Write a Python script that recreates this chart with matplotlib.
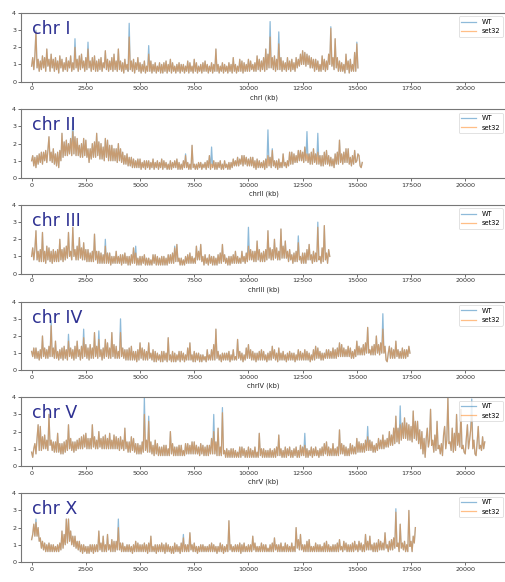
import numpy as np
import matplotlib
matplotlib.use("Agg")
import matplotlib.pyplot as plt

STEP = 50  # kb between bins

chroms = ["chr I", "chr II", "chr III", "chr IV", "chr V", "chr X"]
xlabels = ["chrI (kb)", "chrII (kb)", "chrIII (kb)", "chrIV (kb)", "chrV (kb)", ""]

set32_I = [
 0.9,1.4,0.7,1.5,2.9,0.8,1.3,0.6,1.2,0.7,1.5,0.8,1.4,0.6,1.9,0.9,1.3,0.6,1.6,0.8,
 1.3,0.6,1.4,0.7,1.2,0.5,1.5,0.8,1.3,0.6,1.1,0.7,1.4,0.6,1.2,0.8,1.5,0.6,1.1,0.7,
 2.0,0.8,1.3,0.6,1.5,0.7,1.6,0.8,1.2,0.6,1.4,0.7,1.9,0.8,1.2,0.6,1.4,0.7,1.5,0.6,
 1.2,0.6,1.3,0.7,1.4,0.6,1.1,0.8,1.8,0.7,1.3,0.6,1.2,0.7,1.4,0.6,1.6,0.7,1.2,0.6,
 1.9,0.7,1.2,0.6,1.1,0.5,1.3,0.7,1.0,0.6,2.6,0.7,1.2,0.6,1.3,0.5,1.1,0.7,1.4,0.6,
 1.1,0.5,1.0,0.6,1.2,0.5,0.9,0.6,1.6,0.6,1.2,0.5,1.0,0.6,1.1,0.5,0.9,0.6,1.1,0.5,
 1.0,0.5,1.1,0.6,1.2,0.5,1.0,0.6,1.3,0.5,1.1,0.6,0.9,0.5,1.0,0.6,1.1,0.5,1.0,0.6,
 1.0,0.5,0.9,0.6,1.2,0.5,1.1,0.6,0.9,0.5,1.3,0.6,1.1,0.5,0.9,0.6,1.0,0.5,1.1,0.6,
 1.2,0.6,1.0,0.5,0.9,0.6,1.1,0.5,1.0,0.6,1.9,0.6,1.0,0.5,0.9,0.6,1.1,0.5,1.0,0.6,
 0.9,0.5,1.1,0.6,1.0,0.5,1.4,0.6,1.0,0.5,0.9,0.6,1.3,0.6,1.2,0.5,1.1,0.6,1.0,0.6,
 1.3,0.6,1.2,0.7,1.0,0.6,1.1,0.6,1.5,0.7,1.3,0.6,1.2,0.7,1.4,0.6,1.9,0.7,1.6,0.8,
 2.6,0.8,1.4,0.7,1.5,0.6,1.3,0.7,2.2,0.7,1.4,0.6,1.2,0.7,1.1,0.6,1.4,0.7,1.2,0.6,
 1.3,0.7,1.1,0.6,1.4,0.8,1.3,0.9,1.6,1.0,1.8,1.0,1.7,0.9,1.6,1.0,1.5,0.8,1.4,0.8,
 1.3,0.6,1.3,0.7,1.2,0.6,1.0,0.6,1.5,0.7,1.3,0.6,1.2,0.7,1.6,1.0,3.1,0.9,1.4,0.7,
 2.5,0.8,1.4,0.6,1.2,0.6,1.1,0.6,1.0,0.5,1.6,0.7,1.2,0.5,1.3,0.6,1.0,0.6,1.7,0.6,
 2.2,0.8]
wt_I = {200: 3.0, 2000: 2.5, 2600: 2.3, 4500: 3.4, 5400: 2.1, 11000: 3.5,
        11400: 2.9, 13800: 3.2, 15000: 2.3}

set32_II = [
 1.0,1.3,0.7,1.2,0.6,1.3,0.8,1.4,0.9,1.5,0.8,1.5,1.0,1.6,0.9,1.6,2.4,1.0,1.5,0.9,
 1.7,0.8,1.4,0.7,1.5,0.6,1.6,1.0,2.6,1.2,2.1,1.3,2.2,1.3,2.0,1.4,2.3,1.3,2.7,1.4,
 2.4,1.3,2.3,1.3,1.9,1.2,2.0,1.2,2.3,1.3,2.2,1.2,1.7,0.9,1.7,1.1,2.0,1.2,2.1,1.2,
 2.6,1.3,2.1,1.1,2.0,1.1,1.8,1.0,2.3,1.2,2.2,1.0,1.9,1.0,1.9,1.0,1.7,1.0,1.7,0.9,
 2.0,1.0,1.7,0.9,1.5,0.8,1.3,0.8,1.4,0.7,1.2,0.7,1.2,0.6,1.1,0.6,1.0,0.6,1.1,0.6,
 1.1,0.5,0.9,0.6,1.0,0.5,1.0,0.6,1.0,0.5,0.9,0.6,1.1,0.5,0.9,0.6,1.0,0.5,0.9,0.6,
 1.1,0.5,1.0,0.6,0.9,0.5,0.8,0.5,1.0,0.5,0.9,0.6,1.0,0.6,1.1,0.5,0.9,0.5,0.8,0.5,
 1.0,0.6,1.3,0.6,0.9,0.5,0.8,0.5,1.9,0.6,0.8,0.5,0.8,0.5,0.9,0.6,0.9,0.5,0.8,0.6,
 0.9,0.5,1.0,0.6,1.3,0.5,0.8,0.6,1.0,0.5,0.9,0.5,0.9,0.6,1.0,0.5,0.8,0.5,1.0,0.6,
 0.8,0.5,0.9,0.5,0.9,0.6,1.1,0.7,1.0,0.7,1.2,0.7,1.1,0.8,1.3,0.7,1.3,0.8,1.2,0.7,
 1.1,0.7,1.2,0.7,1.2,0.6,1.0,0.5,1.1,0.6,1.0,0.6,0.9,0.6,1.0,0.5,1.1,0.6,1.3,0.7,
 1.2,0.6,1.6,0.7,1.0,0.6,1.0,0.5,1.1,0.6,0.9,0.6,1.4,0.7,0.9,0.6,1.0,0.7,1.5,0.8,
 1.5,0.8,1.4,0.9,1.3,0.9,1.6,1.0,1.6,1.0,1.5,0.9,1.8,1.0,1.4,0.9,1.4,0.8,1.5,0.8,
 1.7,0.9,1.4,0.8,1.5,0.8,1.3,0.7,1.3,0.7,1.5,0.8,1.6,0.8,1.3,0.7,1.2,0.7,1.1,0.6,
 1.4,0.8,1.5,0.8,2.2,0.9,1.4,0.8,1.5,0.9,1.7,0.9,1.7,0.8,1.2,0.7,1.3,0.8,1.6,0.9,
 1.0,1.4,1.3,0.7,0.6,0.9]
wt_II = {1900: 3.5, 7100: 1.4, 8300: 1.8, 10900: 2.8, 11100: 1.7,
         12700: 2.7, 13200: 2.6}

set32_III = [
 1.0,1.5,0.8,1.4,2.5,0.8,1.3,0.7,1.4,0.7,2.4,0.7,1.3,0.6,1.6,0.8,1.5,0.7,1.3,0.6,
 1.4,0.7,1.3,0.7,1.4,0.7,2.0,0.8,1.4,0.7,1.5,0.8,1.6,0.9,2.4,1.0,1.3,0.8,2.7,1.0,
 1.4,0.8,1.6,0.8,2.1,0.9,1.5,0.8,1.8,0.8,1.4,0.7,1.4,0.7,1.2,0.7,1.3,0.7,2.3,0.8,
 1.3,0.6,1.3,0.6,1.2,0.6,1.1,0.6,1.6,0.6,1.2,0.6,1.2,0.5,1.0,0.6,1.0,0.6,1.3,0.6,
 1.0,0.6,1.1,0.5,1.1,0.6,1.2,0.6,1.0,0.5,1.0,0.5,1.1,0.6,1.5,0.6,1.2,0.5,0.9,0.5,
 1.0,0.5,1.0,0.6,1.1,0.5,0.9,0.5,0.9,0.5,0.8,0.5,1.1,0.6,1.1,0.5,1.0,0.5,0.9,0.5,
 1.0,0.5,1.0,0.5,0.9,0.5,1.1,0.6,1.1,0.6,1.2,0.6,1.5,0.7,1.7,0.7,0.9,0.5,0.9,0.5,
 0.8,0.5,1.0,0.6,1.1,0.6,1.2,0.6,1.0,0.6,0.9,0.6,1.6,0.8,1.3,0.8,1.7,0.7,1.0,0.5,
 1.1,0.6,0.9,0.5,1.1,0.6,1.0,0.5,1.0,0.5,0.9,0.5,1.1,0.6,1.2,0.6,1.7,0.7,1.1,0.6,
 0.9,0.5,1.0,0.5,1.0,0.6,1.1,0.6,1.3,0.6,1.0,0.6,0.9,0.6,1.3,0.7,1.0,0.6,1.2,0.7,
 1.6,0.8,1.4,0.8,1.3,0.7,1.3,0.7,1.9,0.8,1.4,0.7,1.2,0.7,1.3,0.7,1.4,0.8,2.5,0.9,
 1.5,0.8,1.4,0.8,2.0,0.9,1.5,0.8,1.3,0.8,2.6,0.9,1.6,0.9,1.9,0.9,1.3,0.7,1.4,0.8,
 1.1,0.6,1.2,0.7,1.3,0.7,1.8,0.8,1.0,0.6,1.2,0.6,1.2,0.6,1.4,0.8,1.7,0.8,1.1,0.6,
 1.3,0.7,1.2,0.7,2.7,0.8,1.0,0.6,1.5,0.7,2.8,0.8,1.2,0.6,1.4,1.0]
wt_III = {3400: 2.0, 4800: 1.6, 6600: 1.6, 10000: 2.7, 10400: 1.9,
          12300: 2.2, 13200: 3.0}

set32_IV = [
 1.1,0.8,1.3,0.7,1.3,0.7,1.1,0.6,1.2,0.7,2.0,0.8,1.3,0.7,1.2,0.7,1.4,0.8,2.6,0.8,
 1.3,0.7,1.7,0.7,1.1,0.6,1.2,0.7,1.3,0.6,1.4,0.7,1.2,0.6,1.7,0.8,1.3,0.7,1.2,0.6,
 1.4,0.7,1.7,0.8,1.2,0.6,1.4,0.7,1.9,0.8,1.5,0.7,1.3,0.6,1.5,0.7,1.3,0.7,2.2,0.8,
 1.4,0.7,1.8,0.8,1.2,0.6,1.3,0.7,1.8,0.8,1.6,0.7,1.3,0.7,2.2,0.8,1.5,0.7,1.4,0.7,
 1.1,0.7,2.2,0.8,1.3,0.7,1.2,0.6,1.2,0.6,1.3,0.6,1.4,0.6,1.1,0.6,1.1,0.5,1.2,0.6,
 1.6,0.7,1.3,0.6,1.2,0.6,1.1,0.6,1.6,0.7,1.0,0.6,1.2,0.5,1.1,0.5,1.0,0.6,0.9,0.5,
 1.1,0.5,1.1,0.6,1.0,0.5,1.9,0.6,0.9,0.5,1.1,0.5,1.0,0.5,0.9,0.6,1.1,0.5,1.1,0.6,
 1.0,0.5,0.9,0.6,1.3,0.6,1.6,0.6,0.9,0.5,1.1,0.5,1.0,0.6,1.0,0.5,0.9,0.5,0.9,0.6,
 0.8,0.5,1.2,0.6,0.9,0.6,1.2,0.6,1.5,0.6,2.4,0.7,1.1,0.6,0.9,0.5,1.0,0.6,1.0,0.6,
 1.0,0.6,1.1,0.5,0.9,0.6,1.2,0.6,0.8,0.6,1.8,0.7,1.1,0.6,1.0,0.5,0.9,0.6,1.3,0.7,
 1.5,0.7,1.2,0.6,1.1,0.6,1.0,0.5,1.0,0.6,1.1,0.6,1.2,0.6,1.1,0.6,0.9,0.5,1.0,0.6,
 1.1,0.6,1.4,0.7,1.2,0.6,1.0,0.5,1.3,0.6,1.0,0.6,1.1,0.6,0.9,0.5,1.0,0.6,1.1,0.6,
 1.0,0.6,1.0,0.5,0.9,0.6,1.2,0.6,1.1,0.6,1.0,0.6,1.2,0.6,1.1,0.6,1.0,0.5,0.9,0.6,
 1.2,0.6,1.4,0.7,1.3,0.7,1.1,0.6,1.0,0.6,1.0,0.7,1.2,0.7,1.2,0.7,1.1,0.7,1.3,0.7,
 1.2,0.7,1.3,0.8,1.6,0.8,1.5,0.8,1.3,0.8,1.2,0.8,1.4,0.8,1.3,0.7,1.1,0.7,1.2,0.8,
 1.7,0.9,1.4,0.9,1.3,0.9,1.5,0.9,1.6,1.0,2.5,1.0,1.2,0.9,1.4,0.9,1.5,0.9,2.0,1.0,
 1.5,0.9,1.6,1.0,2.4,1.0,1.4,0.6,0.5,1.0,1.4,0.7,1.3,0.7,1.2,0.7,1.7,0.8,1.2,0.7,
 1.1,0.7,1.3,0.7,1.2,0.7,1.2,0.8,1.4,1.0]
wt_IV = {900: 2.9, 1700: 2.1, 2400: 2.4, 3100: 2.3, 4100: 3.0, 6300: 1.9,
         16200: 3.3}

set32_V = [
 0.8,0.5,1.0,1.3,0.7,1.6,2.4,0.9,2.3,0.9,1.7,1.0,1.8,1.0,1.5,0.9,3.0,1.2,1.5,0.9,
 1.4,0.8,1.4,0.8,1.9,0.8,1.3,0.7,1.3,0.7,1.4,0.8,1.5,0.9,2.4,1.0,1.6,0.9,1.4,0.8,
 1.4,0.9,1.5,1.0,1.6,1.0,1.7,1.0,1.8,1.1,1.9,1.0,1.6,1.0,1.6,1.0,2.4,1.1,1.7,1.0,
 1.5,1.0,2.0,1.1,1.6,1.0,1.7,1.0,1.8,1.0,1.6,1.0,1.9,1.0,1.5,1.0,1.8,1.0,1.7,1.0,
 1.6,0.9,1.7,1.0,1.5,0.9,2.2,1.0,1.4,0.8,1.4,0.8,1.7,0.9,1.6,0.8,1.3,0.7,1.3,0.7,
 1.2,0.7,1.4,0.8,3.0,0.9,1.5,0.8,2.6,0.8,1.4,0.7,1.2,0.6,1.5,0.7,1.3,0.6,1.1,0.6,
 1.1,0.6,1.2,0.6,1.2,0.6,1.0,0.6,2.0,0.7,1.3,0.6,1.1,0.6,1.1,0.6,1.2,0.6,1.2,0.6,
 0.9,0.6,1.3,0.7,1.3,0.7,1.2,0.7,1.4,0.7,1.4,0.7,1.2,0.7,1.1,0.6,1.3,0.7,1.2,0.6,
 1.1,0.6,1.2,0.6,1.2,0.7,1.6,0.7,2.0,0.7,1.4,0.6,2.2,0.6,1.1,0.6,3.1,0.7,0.9,0.5,
 1.0,0.5,0.9,0.5,1.0,0.5,1.0,0.5,0.9,0.5,0.8,0.5,1.1,0.5,1.1,0.6,1.0,0.5,0.9,0.5,
 1.1,0.5,1.0,0.5,0.9,0.5,1.1,0.5,0.8,0.5,1.9,0.6,1.0,0.5,1.0,0.5,0.9,0.5,0.9,0.5,
 1.0,0.5,0.9,0.5,1.0,0.5,1.1,0.6,1.8,0.6,1.0,0.5,0.9,0.5,1.1,0.5,1.0,0.6,1.1,0.5,
 0.9,0.5,1.0,0.6,1.1,0.5,0.9,0.5,1.2,0.6,1.1,0.6,1.2,0.5,1.0,0.5,0.9,0.6,1.1,0.5,
 1.0,0.6,1.1,0.6,0.9,0.5,1.0,0.6,1.1,0.6,1.3,0.7,1.4,0.6,1.1,0.6,1.0,0.6,1.3,0.6,
 1.0,0.6,1.1,0.6,2.1,0.7,1.3,0.7,1.2,0.6,1.1,0.6,1.0,0.6,1.3,0.7,1.2,0.7,1.1,0.7,
 1.6,0.8,1.4,0.8,1.3,0.8,1.3,0.8,1.5,0.9,1.7,0.9,1.5,0.9,1.4,0.8,1.2,0.8,1.3,0.9,
 1.6,1.0,1.5,1.0,1.8,1.0,1.5,1.1,1.6,1.1,2.0,1.2,1.8,1.2,2.2,1.3,2.9,1.4,2.2,1.3,
 2.4,1.5,2.5,1.6,2.8,1.6,2.5,1.5,2.4,1.5,2.3,1.4,3.2,1.6,2.6,1.5,2.6,1.3,2.1,1.0,
 2.0,0.7,1.6,0.5,1.6,2.2,1.1,1.5,3.3,1.2,1.5,0.8,1.8,0.9,2.6,1.0,1.2,0.7,1.3,0.6,
 1.8,2.3,1.0,1.5,4.0,1.3,1.4,0.9,2.2,0.8,1.9,0.9,3.0,1.2,1.9,1.1,3.3,1.0,1.2,0.8,
 0.7,1.6,2.4,1.0,1.5,2.1,2.8,1.0,1.5,0.7,0.6,1.4,2.3,1.0,1.2,0.9,1.7,1.0,1.4]
wt_V = {5200: 4.0, 5400: 2.9, 8400: 3.0, 8800: 3.4, 12600: 1.9, 15500: 2.3,
        17000: 3.5, 20300: 3.9}

set32_X = [
 1.3,1.6,2.2,1.5,2.3,1.5,2.0,1.2,1.4,0.8,1.2,0.7,1.1,0.6,1.0,0.6,1.1,0.6,1.0,0.6,
 1.0,0.6,0.9,0.6,1.0,0.6,1.1,0.7,1.8,0.8,1.6,1.0,2.5,1.1,2.5,1.2,1.8,1.0,1.5,0.9,
 1.5,0.8,1.2,0.7,1.2,0.6,1.0,0.5,1.0,0.6,0.9,0.5,0.9,0.5,1.0,0.6,1.0,0.5,1.0,0.6,
 1.0,0.6,1.8,0.7,1.1,0.6,1.5,0.6,1.0,0.6,1.6,0.7,1.0,0.6,1.3,0.6,1.2,0.6,1.2,0.7,
 2.0,0.7,1.1,0.6,1.1,0.6,0.9,0.6,1.0,0.6,1.0,0.6,0.9,0.5,1.0,0.6,1.2,0.6,1.1,0.6,
 1.0,0.6,1.0,0.6,1.1,0.6,1.0,0.5,1.1,0.6,1.5,0.6,0.9,0.6,1.0,0.5,1.0,0.6,1.0,0.6,
 1.1,0.6,1.0,0.5,1.1,0.6,1.0,0.6,0.9,0.5,0.9,0.5,1.1,0.6,1.0,0.6,0.9,0.5,1.1,0.6,
 1.4,0.6,1.0,0.6,1.0,0.6,1.7,0.7,1.0,0.6,1.1,0.6,0.9,0.5,0.9,0.6,1.0,0.6,1.0,0.6,
 0.9,0.6,0.9,0.6,1.0,0.6,1.1,0.6,1.0,0.6,0.9,0.5,0.9,0.6,1.1,0.6,1.0,0.5,0.9,0.6,
 1.0,0.6,2.4,0.7,1.0,0.6,0.9,0.6,1.0,0.6,1.0,0.6,1.1,0.5,1.0,0.6,1.1,0.6,0.9,0.6,
 1.0,0.6,1.0,0.6,1.5,0.7,1.1,0.6,0.9,0.6,0.9,0.6,1.1,0.6,1.0,0.6,1.0,0.6,0.8,0.6,
 1.0,0.6,1.1,0.6,1.4,0.7,1.0,0.6,1.0,0.6,1.1,0.6,0.9,0.6,1.1,0.6,1.0,0.6,0.9,0.6,
 1.1,0.6,0.9,0.6,2.0,0.8,1.3,0.7,1.6,0.7,1.0,0.6,1.0,0.6,1.2,0.6,1.3,0.6,0.9,0.6,
 0.9,0.6,1.1,0.6,1.0,0.6,1.0,0.6,0.9,0.6,1.1,0.6,1.2,0.6,1.0,0.6,0.9,0.6,1.0,0.6,
 1.0,0.6,1.1,0.6,1.3,0.7,0.9,0.6,1.2,0.7,1.1,0.6,1.0,0.6,1.0,0.6,1.1,0.6,1.2,0.7,
 1.0,0.6,1.2,0.7,1.1,0.6,1.0,0.6,1.6,0.7,1.2,0.7,1.5,0.7,1.0,0.6,1.1,0.6,1.1,0.6,
 1.3,0.7,1.2,0.7,1.1,0.7,1.7,0.8,1.0,0.6,1.2,0.7,1.3,0.7,1.4,0.8,2.9,0.9,1.1,0.6,
 2.2,0.8,1.1,0.7,1.2,0.6,1.0,0.6,3.0,0.9,1.2,0.6,1.5,1.1,2.0]
wt_X = {200: 2.5, 4000: 2.5, 7000: 1.6, 16800: 3.1}

set32_all = [set32_I, set32_II, set32_III, set32_IV, set32_V, set32_X]
wt_diff_all = [wt_I, wt_II, wt_III, wt_IV, wt_V, wt_X]

xticks = [0, 2500, 5000, 7500, 10000, 12500, 15000, 17500, 20000]
yticks = [0, 1, 2, 3, 4]

W, H = 506, 582
fig = plt.figure(figsize=(W / 100, H / 100), dpi=100)

tops = [13, 109.3, 205, 301.7, 397.3, 493.3]
ph = 68.6
left_px = 21

for i, name in enumerate(chroms):
    s = np.array(set32_all[i], dtype=float)
    pos = np.arange(len(s)) * STEP
    wt = s.copy()
    for k, v in wt_diff_all[i].items():
        wt[k // STEP] = v
    bottom = 1 - (tops[i] + ph) / H
    ax = fig.add_axes([left_px / W, bottom, (W - left_px) / W, ph / H])
    ax.plot(pos, wt, color="#1f77b4", alpha=0.5, lw=0.9, label="WT")
    ax.plot(pos, s, color="#ff7f0e", alpha=0.5, lw=0.9, label="set32")
    ax.set_xlim(-490, 21880)
    ax.set_ylim(0, 4)
    ax.set_xticks(xticks)
    ax.set_yticks(yticks)
    ax.tick_params(labelsize=4.6, length=2, width=0.5, pad=1.5, colors="#333333")
    for sp in ax.spines.values():
        sp.set_color("#777777")
        sp.set_linewidth(0.8)
    if xlabels[i]:
        ax.set_xlabel(xlabels[i], fontsize=4.8, labelpad=2, color="#222222")
    ax.text(0.023, 0.90, name, transform=ax.transAxes, ha="left", va="top",
            fontsize=12.5, color="#2e3192")
    leg = ax.legend(loc="upper right", fontsize=4.8, handlelength=2.2,
                    borderaxespad=0.5, framealpha=0.8)
    leg.get_frame().set_linewidth(0.5)

fig.savefig("out.png", dpi=100)
